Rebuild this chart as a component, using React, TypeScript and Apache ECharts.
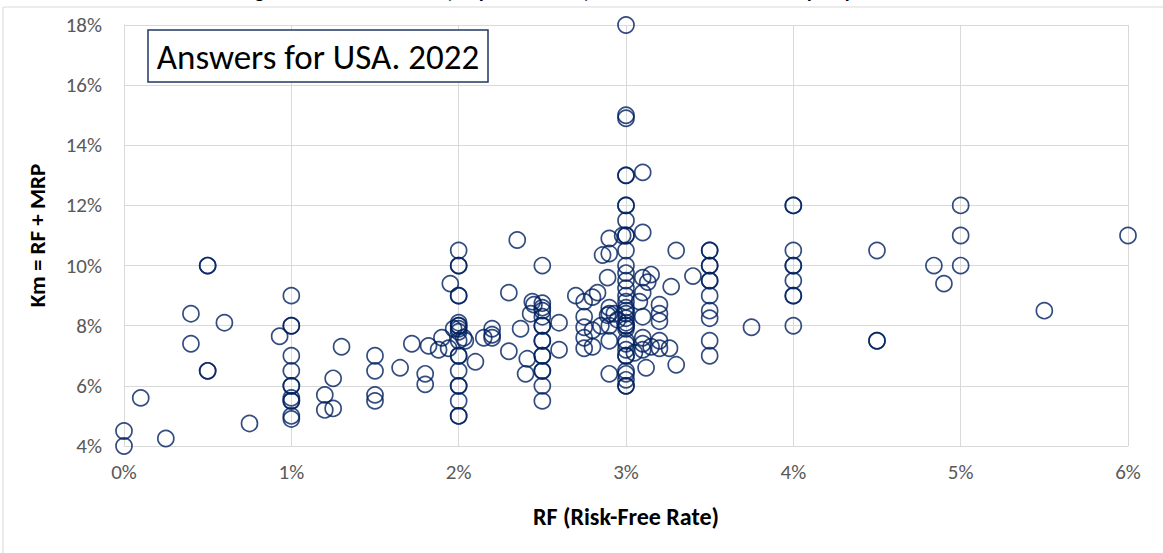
import React, { useEffect, useRef } from "react";
import * as echarts from "echarts";

const chartTitle = "Figure 5. Km = RF + MRP (Required return) used in the USA in 2022 by respondents";
const boxLabel = "Answers for USA. 2022";
const xAxisName = "RF (Risk-Free Rate)";
const yAxisName = "Km = RF + MRP";

// RF (%) and Km (%) of each answer
const rfValues: number[] = [
  0, 0, 0.1, 0.25, 0.4, 0.4, 0.5, 0.5, 0.5, 0.5, 0.6, 0.75, 0.93,
  1, 1, 1, 1, 1, 1, 1, 1, 1, 1, 1, 1,
  1.2, 1.2, 1.25, 1.25, 1.3, 1.5, 1.5, 1.5, 1.5, 1.65, 1.72, 1.8, 1.8, 1.82, 1.9, 1.88, 1.95, 1.94,
  2, 2, 2, 2, 2, 2, 2, 2, 2, 2, 2, 2, 2, 2, 2, 2, 2, 2, 2,
  1.97, 2.03, 2.04, 2.1,
  2.15, 2.2, 2.2, 2.2,
  2.3, 2.3, 2.35, 2.37, 2.41, 2.4, 2.43, 2.44, 2.45,
  2.5, 2.5, 2.5, 2.5, 2.5, 2.5, 2.5, 2.5, 2.5, 2.5, 2.5, 2.5, 2.5, 2.5, 2.5,
  2.6, 2.6,
  2.7, 2.75, 2.8, 2.83, 2.89, 2.86, 2.9, 2.9, 2.75, 2.75, 2.75, 2.75, 2.8, 2.8, 2.89, 2.9, 2.9, 2.9, 2.9, 2.9, 2.95, 2.93, 2.85, 2.98,
  3, 3, 3, 3, 3, 3, 3, 3, 3, 3, 3, 3, 3, 3, 3, 3, 3, 3, 3, 3, 3, 3, 3, 3, 3, 3, 3, 3, 3, 3, 3, 3, 3, 3, 3,
  3.1, 3.1, 3.3, 3.1, 3.15, 3.13, 3.1, 3.1, 3.1, 3.1, 3.12, 3.05, 3.2, 3.2, 3.2, 3.2, 3.2, 3.27, 3.26, 3.3, 3.4, 3.15, 3.1, 3.08,
  3.5, 3.5, 3.5, 3.5, 3.5, 3.5, 3.5, 3.5, 3.5, 3.5, 3.5,
  3.75,
  4, 4, 4, 4, 4, 4, 4, 4, 4,
  4.5, 4.5, 4.5, 4.84, 4.9, 5, 5, 5, 5.5, 6,
];
const kmValues: number[] = [
  4.0, 4.5, 5.6, 4.25, 8.4, 7.4, 10, 10, 6.5, 6.5, 8.1, 4.75, 7.65,
  9, 8, 8, 7, 6.5, 6, 6, 5.5, 5.5, 5.6, 5, 4.9,
  5.7, 5.2, 5.25, 6.25, 7.3, 7, 6.5, 5.7, 5.5, 6.6, 7.4, 6.4, 6.05, 7.33, 7.6, 7.2, 9.4, 7.25,
  10.5, 10, 10, 9, 9, 8.1, 8, 8, 7.9, 7.8, 7.5, 7, 7, 6.5, 6, 6, 5.5, 5, 5,
  7.9, 7.6, 7.5, 6.8,
  7.6, 7.9, 7.7, 7.6,
  9.1, 7.15, 10.85, 7.9, 6.9, 6.4, 8.4, 8.8, 8.7,
  10, 8.75, 8.6, 8.5, 8.3, 8.0, 8.0, 7.5, 7.5, 7.0, 7.0, 6.5, 6.5, 6.0, 5.5,
  8.1, 7.2,
  9.0, 8.8, 8.95, 9.1, 9.6, 10.35, 10.4, 10.9, 8.3, 7.95, 7.6, 7.25, 7.85, 7.3, 8.35, 8.6, 8.4, 8.0, 7.5, 6.4, 8.2, 8.4, 8.0, 11.0,
  18, 15, 14.9, 13, 13, 12, 12, 11.5, 11, 11, 10.5, 10, 9.75, 9.5, 9.25, 9, 8.8, 8.6, 8.5, 8.4, 8.25, 8.1, 8.0, 8.0, 7.9, 7.5, 7.4, 7.2, 7.0, 7.0, 6.5, 6.4, 6.2, 6.0, 6.0,
  13.1, 11.1, 10.5, 9.6, 9.7, 9.45, 9.1, 8.3, 7.6, 7.2, 6.6, 7.1, 8.7, 8.4, 8.15, 7.5, 7.25, 9.3, 7.25, 6.7, 9.65, 7.3, 7.4, 8.8,
  10.5, 10.5, 10, 10, 9.5, 9.5, 9, 8.5, 8.25, 7.5, 7,
  7.95,
  12, 12, 10.5, 10, 10, 9.5, 9, 9, 8,
  10.5, 7.5, 7.5, 10, 9.4, 12, 11, 10, 8.5, 11,
];

const xTicks = { min: 0, max: 6, interval: 1 };
const yTicks = { min: 4, max: 18, interval: 2 };

const FONT = "Carlito, 'Liberation Sans Narrow', 'Liberation Sans', Arial, sans-serif";

export default function App() {
  const ref = useRef<HTMLDivElement>(null);
  useEffect(() => {
    if (!ref.current) return;
    const chart = echarts.init(ref.current, undefined, { renderer: "svg" });
    const points = rfValues.map((x, i) => [x, kmValues[i]]);
    chart.setOption({
      animation: false,
      backgroundColor: "#ffffff",
      grid: { left: 124, right: 35, top: 25, bottom: 107, containLabel: false },
      xAxis: {
        type: "value",
        min: xTicks.min,
        max: xTicks.max,
        interval: xTicks.interval,
        name: xAxisName,
        nameLocation: "middle",
        nameGap: 58,
        nameTextStyle: { fontFamily: FONT, fontSize: 24, fontWeight: "bold", color: "#000000" },
        axisLine: { show: true, lineStyle: { color: "#D9D9D9", width: 1 } },
        axisTick: { show: false },
        axisLabel: { formatter: "{value}%", color: "#595959", fontFamily: FONT, fontSize: 21, margin: 15 },
        splitLine: { show: true, lineStyle: { color: "#D9D9D9", width: 1 } },
      },
      yAxis: {
        type: "value",
        min: yTicks.min,
        max: yTicks.max,
        interval: yTicks.interval,
        name: yAxisName,
        nameLocation: "middle",
        nameGap: 76,
        nameRotate: 90,
        nameTextStyle: { fontFamily: FONT, fontSize: 23, fontWeight: "bold", color: "#000000" },
        axisLine: { show: true, lineStyle: { color: "#D9D9D9", width: 1 } },
        axisTick: { show: false },
        axisLabel: { formatter: "{value}%", color: "#595959", fontFamily: FONT, fontSize: 21, margin: 22 },
        splitLine: { show: true, lineStyle: { color: "#D9D9D9", width: 1 } },
      },
      series: [
        {
          type: "scatter",
          data: points,
          symbol: "circle",
          symbolSize: 16,
          itemStyle: { color: "rgba(0,0,0,0)", borderColor: "#002060", borderWidth: 1.7 },
          emphasis: { disabled: true },
          z: 5,
        },
      ],
      graphic: [
        {
          type: "rect",
          shape: { x: 3, y: 7, width: 1200, height: 600 },
          style: { fill: "none", stroke: "#D9D9D9", lineWidth: 1 },
          silent: true,
          z: 0,
        },
        {
          type: "text",
          x: 582,
          y: 1,
          style: {
            text: chartTitle,
            font: `bold 20px ${FONT}`,
            fill: "#000000",
            align: "center",
            verticalAlign: "bottom",
          },
          silent: true,
        },
        {
          type: "rect",
          shape: { x: 148, y: 30, width: 340, height: 52 },
          style: { fill: "#ffffff", stroke: "#1F3864", lineWidth: 1.5 },
          silent: true,
          z: 10,
        },
        {
          type: "text",
          x: 318,
          y: 57,
          style: {
            text: boxLabel,
            font: `35px ${FONT}`,
            fill: "#000000",
            align: "center",
            verticalAlign: "middle",
          },
          silent: true,
          z: 11,
        },
      ],
    });
    return () => chart.dispose();
  }, []);
  return (
    <div
      ref={ref}
      style={{ position: "fixed", left: 0, top: 0, width: 1163, height: 553 }}
    />
  );
}
